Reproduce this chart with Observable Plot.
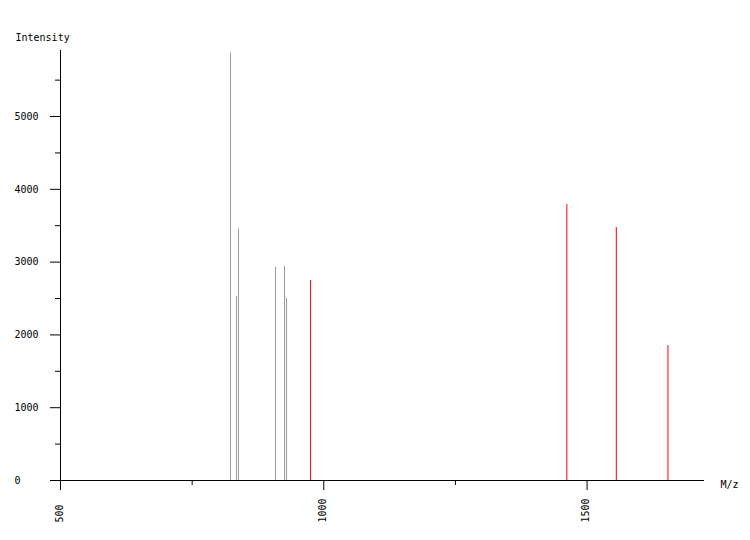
<!DOCTYPE html>
<html>
<head>
<meta charset="utf-8">
<script src="https://cdn.jsdelivr.net/npm/d3@7"></script>
<script src="https://cdn.jsdelivr.net/npm/@observablehq/plot@0.6"></script>
<style>
  html, body { margin: 0; padding: 0; background: #fff; }
</style>
</head>
<body>
<div id="chart"></div>
<script>
// Peak data
const mz =        [822.8, 834.2, 838.0, 908.4, 925.5, 929.3, 974.9, 1461.6, 1555.5, 1653.6];
const intensity = [5875,  2527,  3457,  2926,  2940,  2500,  2747,  3791,   3475,   1854];
const peakKind =  ["gray","gray","gray","gray","gray","gray","red", "red",  "red",  "red"];

const xMajor = [500, 1000, 1500];
const xMinor = [750, 1250];
const yMajor = [0, 1000, 2000, 3000, 4000, 5000];
const yMinor = [500, 1500, 2500, 3500, 4500, 5500];

const xDomain = [500, 1723];
const yDomain = [0, 5907];

const peaks = mz.map((m, i) => ({mz: m, intensity: intensity[i], kind: peakKind[i]}));
const colorOf = {gray: "#999999", red: "#ff0000"};

const chart = Plot.plot({
  width: 750,
  height: 540,
  marginLeft: 60,
  marginRight: 46,
  marginTop: 50,
  marginBottom: 60,
  style: {fontFamily: "'DejaVu Sans Mono', monospace", fontSize: "10px", background: "#fff", color: "#000"},
  x: {domain: xDomain, axis: null},
  y: {domain: yDomain, axis: null},
  marks: [
    Plot.ruleX(peaks, {x: "mz", y1: 0, y2: "intensity", stroke: d => colorOf[d.kind], strokeWidth: 1}),
    Plot.ruleY([0], {stroke: "#000"}),
    Plot.ruleX([500], {stroke: "#000"}),
    Plot.axisY({ticks: yMajor, tickSize: 10, tickFormat: () => "", label: null, stroke: "#000"}),
    Plot.axisY({ticks: yMinor, tickSize: 5, tickFormat: () => "", label: null, stroke: "#000"}),
    Plot.axisX({ticks: xMajor, tickSize: 10, tickFormat: () => "", label: null, stroke: "#000"}),
    Plot.axisX({ticks: xMinor, tickSize: 5, tickFormat: () => "", label: null, stroke: "#000"}),
    Plot.text(yMajor, {y: d => d, frameAnchor: "left", dx: -46, textAnchor: "start", text: d => String(d), fill: "#000"}),
    Plot.text(xMajor, {x: d => d, frameAnchor: "bottom", dx: 2, dy: 42, rotate: -90, textAnchor: "start", text: d => String(d), fill: "#000"}),
    Plot.text(["Intensity"], {frameAnchor: "top-left", dx: -45, dy: -17, textAnchor: "start", text: d => d, fill: "#000"}),
    Plot.text(["M/z"], {frameAnchor: "bottom-right", dx: 16, dy: 7, textAnchor: "start", text: d => d, fill: "#000"})
  ]
});
document.getElementById("chart").append(chart);
</script>
</body>
</html>
